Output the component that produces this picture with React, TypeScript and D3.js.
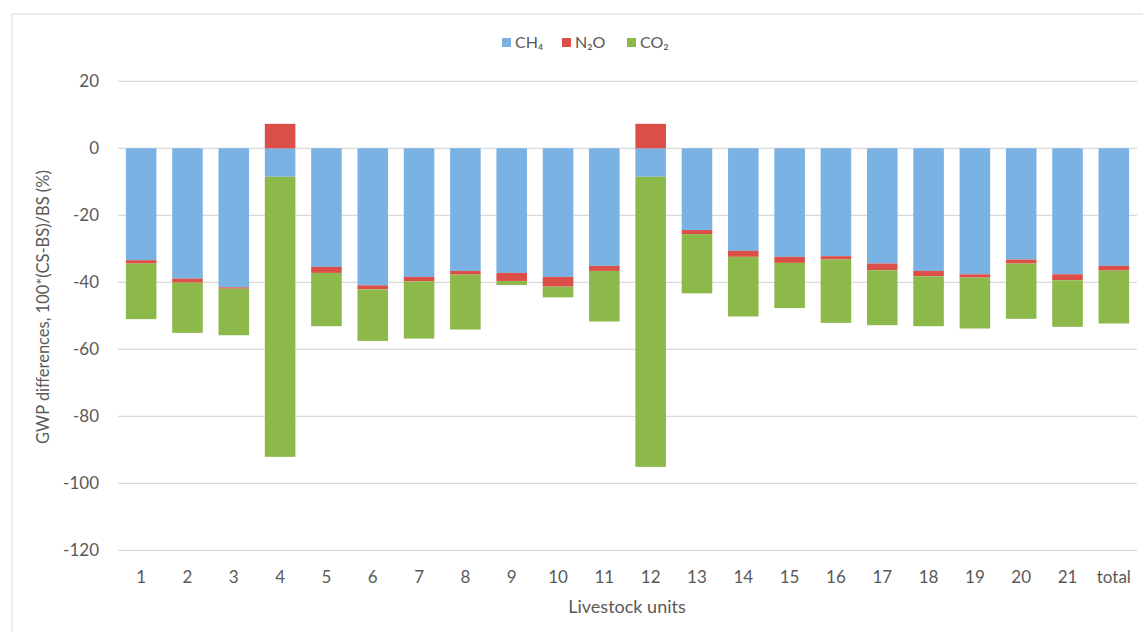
import { useMemo } from 'react';
import * as d3 from 'd3';

// Livestock units (x categories)
const units = ['1', '2', '3', '4', '5', '6', '7', '8', '9', '10', '11', '12', '13', '14', '15', '16', '17', '18', '19', '20', '21', 'total'];

// GWP differences per gas, 100*(CS-BS)/BS (%)
const ch4 = [-33.4, -38.9, -41.5, -8.5, -35.4, -40.9, -38.4, -36.6, -37.2, -38.4, -35.1, -8.5, -24.4, -30.6, -32.4, -32.2, -34.4, -36.6, -37.6, -33.2, -37.6, -35.1];
const n2o = [-1.0, -1.2, -0.4, 7.3, -1.8, -1.2, -1.3, -1.1, -2.4, -2.9, -1.5, 7.3, -1.2, -1.8, -1.8, -1.0, -2.0, -1.6, -1.0, -1.2, -1.8, -1.4];
const co2 = [-16.6, -15.0, -13.9, -83.6, -15.9, -15.4, -17.1, -16.4, -1.2, -3.2, -15.1, -86.6, -17.7, -17.8, -13.5, -18.9, -16.4, -14.9, -15.2, -16.5, -13.9, -15.8];

const yTicks = [20, 0, -20, -40, -60, -80, -100, -120];

const seriesKeys = ['ch4', 'n2o', 'co2'];
const seriesLabels: Record<string, string> = { ch4: 'CH₄', n2o: 'N₂O', co2: 'CO₂' };
const seriesColors: Record<string, string> = { ch4: '#7AB3E3', n2o: '#DC4F49', co2: '#8DB94B' };

const W = 1143;
const H = 632;
const FONT = 'Lato, "Open Sans", sans-serif';
const TEXT = '#595959';

export default function App() {
	const rows = useMemo(() => units.map((u, i) => ({ unit: u, ch4: ch4[i], n2o: n2o[i], co2: co2[i] })), []);

	const x = d3.scaleBand<string>().domain(units).range([118, 1137]).paddingInner(0.34).paddingOuter(0.17);
	const y = d3.scaleLinear().domain([-120, 20]).range([550.3, 81.3]);

	// Excel-style stacking: negatives stack down from 0, positives up
	const stacked = d3
		.stack<(typeof rows)[number]>()
		.keys(seriesKeys)
		.offset(d3.stackOffsetDiverging)(rows);

	const legendItems = [
		{ key: 'ch4', x: 502 },
		{ key: 'n2o', x: 562 },
		{ key: 'co2', x: 627 },
	];

	return (
		<svg width={W} height={H} style={{ position: 'absolute', left: 0, top: 0, background: '#fff', overflow: 'hidden' }} fontFamily={FONT}>
			<path d={`M12,${H + 10}V14H${W + 20}`} fill="none" stroke="#D9D9D9" strokeWidth={1} />

			{/* gridlines */}
			{yTicks.map((t) => (
				<line key={t} x1={118} x2={1137} y1={y(t)} y2={y(t)} stroke="#D9D9D9" strokeWidth={1.3} />
			))}

			{/* y tick labels */}
			{yTicks.map((t) => (
				<text key={'l' + t} x={99} y={y(t)} dy="0.35em" textAnchor="end" fontSize={17} fill={TEXT}>
					{t}
				</text>
			))}

			{/* bars */}
			{stacked.map((s) => (
				<g key={s.key} fill={seriesColors[s.key]}>
					{s.map((d) => {
						const y0 = y(d[0]);
						const y1 = y(d[1]);
						return <rect key={d.data.unit} x={x(d.data.unit)} y={Math.min(y0, y1)} width={x.bandwidth()} height={Math.abs(y1 - y0)} />;
					})}
				</g>
			))}

			{/* x tick labels */}
			{units.map((u) => (
				<text key={u} x={(x(u) ?? 0) + x.bandwidth() / 2} y={583} textAnchor="middle" fontSize={17} fill={TEXT}>
					{u}
				</text>
			))}

			<text x={627} y={613} textAnchor="middle" fontSize={18} fill={TEXT}>
				Livestock units
			</text>
			<text transform="translate(49,307) rotate(-90)" textAnchor="middle" fontSize={16.5} fill={TEXT}>
				GWP differences, 100*(CS-BS)/BS (%)
			</text>

			{/* legend */}
			{legendItems.map((it) => (
				<g key={it.key}>
					<rect x={it.x} y={38} width={9} height={9} fill={seriesColors[it.key]} />
					<text x={it.x + 13} y={48} fontSize={16} fill={TEXT}>
						{seriesLabels[it.key]}
					</text>
				</g>
			))}
		</svg>
	);
}
